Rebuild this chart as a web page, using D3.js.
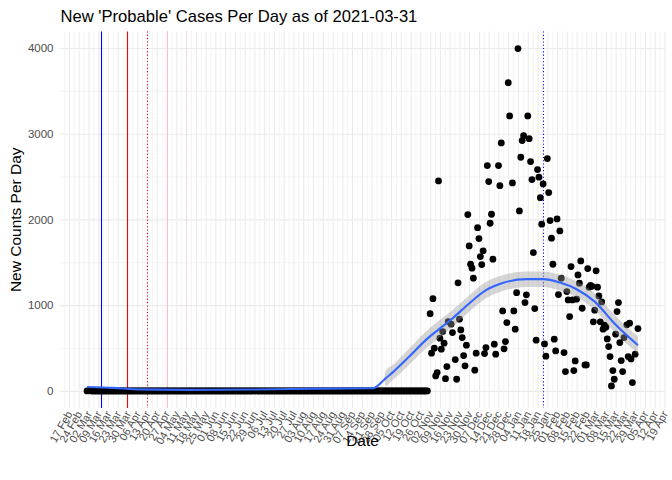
<!DOCTYPE html>
<html>
<head>
<meta charset="utf-8">
<script src="https://cdn.jsdelivr.net/npm/d3@7"></script>
<style>
  body { margin: 0; background: #fff; }
  svg { font-family: "Liberation Sans", Arial, sans-serif; }
</style>
</head>
<body>
<div id="chart"></div>
<script>
// ---- data ----
const firstDay = "2020-03-01";          // single zero point at the very start
const zeroSpan = ["2020-03-04", "2020-10-31"]; // every day in here is 0
const lateStart = "2020-11-01";         // daily values from here on (null = no point)
const lateValues = [
  null, 901, 440, 1076, 498, 175, 213, 2449, 615, 486,
  692, 556, 143, 283, 808, null, 778, 680, null, 365,
  136, 1260, 836, 711, 622, 412, 292, 533, 2056, 1691,
  1477, 1431, 1314, 241, 440, 1904, 1776, 1566, 1473, 1633,
  435, 505, 2628, 2441, 1955, 2060, 1536, 545, 428, null,
  2628, 2394, 2892, 933, 490, 575, 797, 3595, 3207, null,
  2426, 933, 720, 1146, 3992, 2099, 2725, 2919, 2977, 1030,
  1120, 3207, 2942, 2674, 2464, 1613, 960, 591, 2581, 2492,
  2254, 1944, 2414, 548, 405, 2709, 2313, 1986, 1781, 1477,
  603, 466, 2006, 1123, 1866, 1314, null, 447, 225, 1158,
  1061, 867, 1450, 1061, 237, 350, 1070, 1353, 1256, 1516,
  964, null, 303, 303, 1426, 1210, 1230, 1220, 805, 941,
  1400, 1210, 1108, 805, 1038, 720, 766, 743, 606, 517,
  400, 58, 237, 136, 661, 925, 1030, 563, 353, 225,
  622, null, 770, 400, 790, 373, 97, null, 428, null,
  727
];

const smoothDates = [
  "2020-03-01", "2020-03-20", "2020-04-05", "2020-05-15", "2020-07-01",
  "2020-08-15", "2020-09-22", "2020-09-30", "2020-10-01", "2020-10-06",
  "2020-10-18", "2020-10-30", "2020-11-08", "2020-11-18", "2020-11-30",
  "2020-12-12", "2020-12-24", "2021-01-10", "2021-01-22", "2021-02-03",
  "2021-02-15", "2021-02-28", "2021-03-14", "2021-03-31"
];
const smoothValues = [
  45, 35, 18, 12, 16,
  26, 31, 130, 145, 213,
  400, 595, 715, 845, 1020,
  1175, 1258, 1303, 1303, 1263,
  1185, 1041, 790, 533
];
const smoothSe = [
  4, 4, 4, 4, 4,
  4, 4, 4, 85, 88,
  95, 98, 100, 98, 96,
  95, 92, 90, 90, 92,
  94, 97, 99, 100
];

const eventDates = ["2020-03-11", "2020-03-30", "2020-04-13", "2020-04-27", "2020-05-11", "2021-01-22"];
const yTicks = [0, 1000, 2000, 3000, 4000];
const yMinor = [500, 1500, 2500, 3500];

const titleText = "New 'Probable' Cases Per Day as of 2021-03-31";

// ---- build points ----
const parse = d3.utcParse("%Y-%m-%d");
let points = [{date: parse(firstDay), value: 0}];
d3.utcDay.range(parse(zeroSpan[0]), d3.utcDay.offset(parse(zeroSpan[1]), 1))
  .forEach(d => points.push({date: d, value: 0}));
lateValues.forEach((v, i) => {
  if (v !== null) points.push({date: d3.utcDay.offset(parse(lateStart), i), value: v});
});
const smooth = smoothDates.map((d, i) => ({date: parse(d), value: smoothValues[i], se: smoothSe[i]}));

// vline styling
const eventStyle = [
  {color: "rgb(0,0,255)", dash: null},
  {color: "rgb(255,0,0)", dash: null},
  {color: "rgb(255,0,0)", dash: "1.1,2.2"},
  {color: "rgb(255,192,203)", dash: null},
  {color: "rgb(255,192,203)", dash: "1.1,2.2"},
  {color: "rgb(0,0,255)", dash: "1.1,2.2"}
];

// ---- layout ----
const W = 672, H = 480;
const pLeft = 59.5, pRight = 665.5, pTop = 31.5, pBottom = 408;

const svg = d3.select("#chart").append("svg")
  .attr("width", W).attr("height", H);

const dExt = d3.extent(points, d => d.date);
const span = dExt[1] - dExt[0];
const x = d3.scaleUtc()
  .domain([new Date(+dExt[0] - 0.05 * span), new Date(+dExt[1] + 0.05 * span)])
  .range([pLeft, pRight]);
const yMax = d3.max(points, d => d.value);
const y = d3.scaleLinear()
  .domain([-0.05 * yMax, 1.05 * yMax])
  .range([pBottom, pTop]);

// weekly breaks and minor breaks in between
const majors = d3.utcMonday.range(x.domain()[0], x.domain()[1]);
let minors = majors.map(d => d3.utcHour.offset(d, -84));
minors.push(d3.utcHour.offset(majors[majors.length - 1], 84));
minors = minors.filter(d => d >= x.domain()[0] && d <= x.domain()[1]);

// grid
function grid(g, w) {
  g.select(".domain").remove();
  g.selectAll("line").attr("stroke", "#ebebeb").attr("stroke-width", w);
  g.selectAll("text").remove();
}
svg.append("g").attr("transform", `translate(0,${pBottom})`)
  .call(d3.axisBottom(x).tickValues(minors).tickSize(-(pBottom - pTop)).tickFormat(""))
  .call(g => grid(g, 0.53));
svg.append("g").attr("transform", `translate(${pLeft},0)`)
  .call(d3.axisLeft(y).tickValues(yMinor).tickSize(-(pRight - pLeft)).tickFormat(""))
  .call(g => grid(g, 0.53));
svg.append("g").attr("transform", `translate(0,${pBottom})`)
  .call(d3.axisBottom(x).tickValues(majors).tickSize(-(pBottom - pTop)).tickFormat(""))
  .call(g => grid(g, 1.07));
svg.append("g").attr("transform", `translate(${pLeft},0)`)
  .call(d3.axisLeft(y).tickValues(yTicks).tickSize(-(pRight - pLeft)).tickFormat(""))
  .call(g => grid(g, 1.07));

// vertical event lines, centred on a pixel column so they stay sharp
const snap = v => Math.round(v) + 0.5;
svg.append("g").selectAll("line")
  .data(eventDates)
  .join("line")
  .attr("x1", d => snap(x(parse(d)))).attr("x2", d => snap(x(parse(d))))
  .attr("y1", pTop).attr("y2", pBottom)
  .style("stroke", (d, i) => eventStyle[i].color)
  .style("stroke-width", "1.07px")
  .style("stroke-dasharray", (d, i) => eventStyle[i].dash);

// points
svg.append("g").selectAll("circle")
  .data(points)
  .join("circle")
  .attr("cx", d => x(d.date))
  .attr("cy", d => y(d.value))
  .attr("r", 3.4)
  .attr("fill", "#000");

// smooth ribbon + line
svg.append("path")
  .datum(smooth)
  .attr("d", d3.area()
    .x(d => x(d.date))
    .y0(d => y(d.value - d.se))
    .y1(d => y(d.value + d.se))
    .curve(d3.curveMonotoneX))
  .attr("fill", "#999999")
  .attr("fill-opacity", 0.4);

svg.append("path")
  .datum(smooth)
  .attr("d", d3.line()
    .x(d => x(d.date))
    .y(d => y(d.value))
    .curve(d3.curveMonotoneX))
  .attr("fill", "none")
  .attr("stroke", "#3366FF")
  .attr("stroke-width", 2.1);

// axes labels
const xAxis = svg.append("g").attr("transform", `translate(0,${pBottom})`)
  .call(d3.axisBottom(x).tickValues(majors).tickSize(0).tickFormat(d3.utcFormat("%d %b")));
xAxis.select(".domain").remove();
xAxis.selectAll("text")
  .attr("x", 0).attr("y", 0)
  .attr("dy", "0.35em")
  .attr("transform", "translate(0,4) rotate(-60)")
  .attr("text-anchor", "end")
  .attr("fill", "#4d4d4d")
  .attr("font-size", 11)
  .attr("font-family", null);

const yAxis = svg.append("g").attr("transform", `translate(${pLeft},0)`)
  .call(d3.axisLeft(y).tickValues(yTicks).tickSize(0).tickPadding(6).tickFormat(d3.format("d")));
yAxis.select(".domain").remove();
yAxis.selectAll("text")
  .attr("fill", "#4d4d4d")
  .attr("font-size", 11.5)
  .attr("font-family", null);

// titles
svg.append("text")
  .attr("x", pLeft + 1).attr("y", 22)
  .attr("font-size", 16.6)
  .attr("fill", "#000")
  .text(titleText);

svg.append("text")
  .attr("x", (pLeft + pRight) / 2).attr("y", 446)
  .attr("text-anchor", "middle")
  .attr("font-size", 15.5)
  .text("Date");

svg.append("text")
  .attr("transform", `translate(21,${(pTop + pBottom) / 2}) rotate(-90)`)
  .attr("text-anchor", "middle")
  .attr("font-size", 15.5)
  .text("New Counts Per Day");
</script>
</body>
</html>
